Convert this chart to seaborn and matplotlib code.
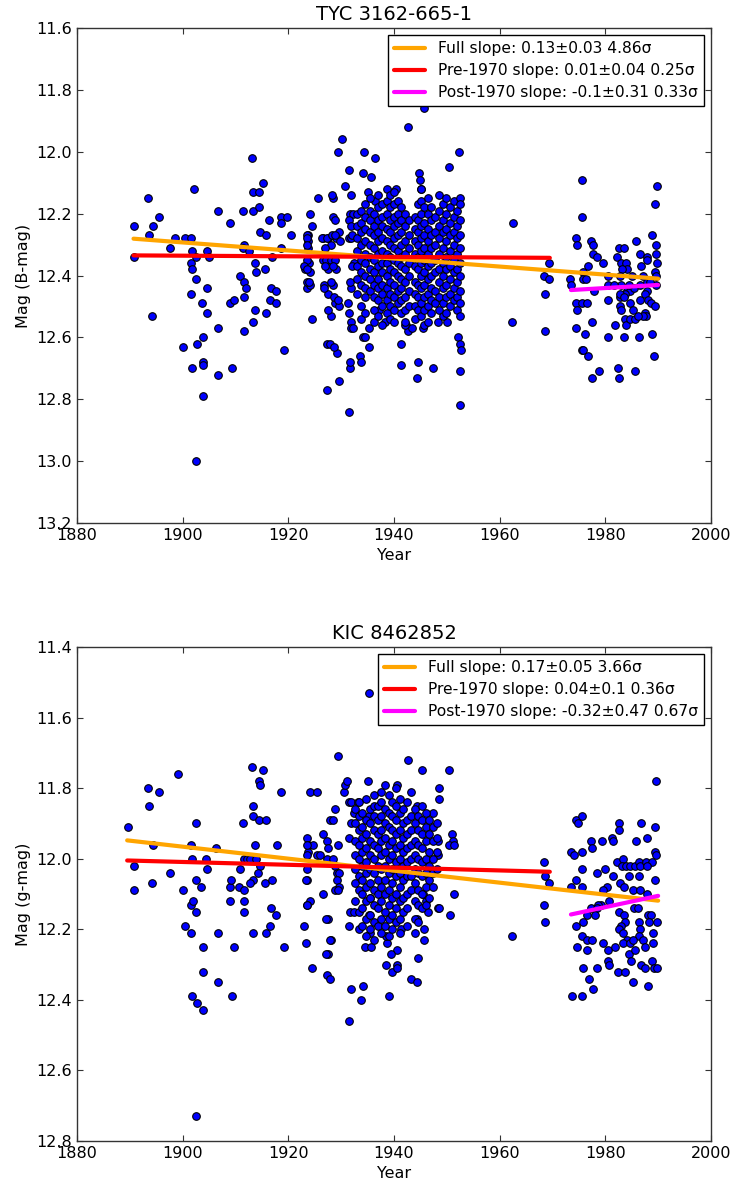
import matplotlib
matplotlib.use("Agg")
import matplotlib.pyplot as plt
from matplotlib.ticker import FormatStrFormatter, MultipleLocator
import pandas as pd
import seaborn as sns

# ---------------- TYC 3162-665-1 (B-mag) ----------------
# individual plates, 1890-1932
tyc_early = [
    (1890.7, 12.24), (1890.8, 12.34), (1893.5, 12.15), (1894.4, 12.24), (1893.7, 12.27),
    (1895.6, 12.21), (1894.2, 12.53), (1897.7, 12.31), (1898.6, 12.28), (1902.2, 12.12),
    (1900.5, 12.28), (1901.6, 12.28), (1901.7, 12.32), (1901.6, 12.36), (1901.8, 12.38),
    (1902.6, 12.41), (1901.6, 12.46), (1903.7, 12.49), (1904.7, 12.44), (1904.7, 12.52),
    (1902.5, 12.34), (1904.7, 12.32), (1905.0, 12.34), (1900.1, 12.63), (1902.8, 12.62),
    (1903.8, 12.60), (1901.8, 12.70), (1903.8, 12.68), (1903.8, 12.69), (1906.6, 12.72),
    (1909.3, 12.70), (1903.8, 12.79), (1902.5, 13.00), (1906.6, 12.19), (1906.6, 12.57),
    (1908.9, 12.23), (1909.0, 12.49), (1909.8, 12.48), (1911.4, 12.19), (1911.7, 12.30),
    (1910.8, 12.40), (1911.6, 12.42), (1911.9, 12.44), (1911.7, 12.47), (1911.7, 12.58),
    (1911.5, 12.31), (1913.1, 12.02), (1913.4, 12.13), (1914.4, 12.13), (1915.3, 12.10),
    (1913.4, 12.19), (1914.4, 12.18), (1914.6, 12.26), (1915.7, 12.27), (1916.4, 12.22),
    (1912.5, 12.32), (1913.7, 12.36), (1913.9, 12.39), (1915.6, 12.38), (1913.4, 12.55),
    (1913.7, 12.51), (1915.8, 12.52), (1916.7, 12.44), (1917.7, 12.45), (1916.5, 12.48),
    (1917.7, 12.49), (1917.0, 12.34), (1918.6, 12.21), (1919.8, 12.21), (1918.6, 12.23),
    (1920.5, 12.27), (1918.6, 12.31), (1919.1, 12.64),
    (1924.1, 12.20), (1925.7, 12.15), (1923.8, 12.27), (1923.7, 12.29), (1923.8, 12.31),
    (1923.1, 12.38), (1923.9, 12.36), (1924.2, 12.39), (1923.6, 12.44), (1924.1, 12.43),
    (1924.4, 12.54), (1926.6, 12.28), (1927.6, 12.28), (1928.5, 12.15), (1928.3, 12.14),
    (1929.5, 12.00), (1930.2, 11.96), (1928.5, 12.21), (1928.8, 12.22), (1929.1, 12.28),
    (1929.6, 12.26), (1929.8, 12.29), (1928.0, 12.30), (1926.9, 12.31), (1926.5, 12.35),
    (1927.6, 12.36), (1929.1, 12.38), (1927.6, 12.38), (1928.5, 12.43), (1927.6, 12.46),
    (1928.8, 12.49), (1929.6, 12.50), (1928.1, 12.53), (1927.3, 12.62), (1927.8, 12.62),
    (1929.3, 12.65), (1927.4, 12.77), (1929.6, 12.74), (1931.7, 12.70), (1931.4, 12.84),
    (1930.7, 12.11), (1931.5, 12.06), (1931.8, 12.14), (1924.5, 12.24), (1926.4, 12.28),
    (1927.3, 12.28), (1928.3, 12.27), (1928.9, 12.27), (1927.2, 12.35), (1928.1, 12.35),
    (1928.8, 12.35), (1927.0, 12.37), (1928.4, 12.37), (1926.7, 12.43), (1926.8, 12.44),
    (1928.0, 12.42), (1928.7, 12.47), (1929.5, 12.48), (1927.6, 12.51), (1931.3, 12.49),
    (1931.8, 12.55), (1928.7, 12.63), (1933.5, 12.66), (1931.7, 12.68), (1923.5, 12.27),
    (1923.6, 12.28), (1923.5, 12.30), (1923.5, 12.35), (1922.9, 12.37), (1923.6, 12.38),
    (1923.5, 12.42), (1924.0, 12.42), (1931.7, 12.20), (1932.2, 12.20), (1931.5, 12.22),
    (1931.8, 12.24), (1931.4, 12.28), (1931.8, 12.28), (1932.0, 12.27), (1932.4, 12.36),
    (1932.1, 12.37), (1931.8, 12.44), (1931.7, 12.42), (1931.4, 12.52), (1931.8, 12.57),
    (1932.2, 12.57),
]

# dense plate series 1933-1953: one column of magnitudes per epoch
tyc_core_years = [
    1933.0, 1933.8, 1934.6, 1935.4, 1936.2, 1937.0, 1937.8, 1938.6, 1939.3, 1940.0,
    1940.7, 1941.4, 1942.1, 1942.8, 1943.9, 1944.5, 1945.1, 1945.7, 1946.4, 1947.1,
    1947.8, 1948.5, 1949.2, 1949.9, 1950.6, 1951.3, 1952.0, 1952.5,
]
tyc_core_mags = [
    [12.20, 12.24, 12.28, 12.32, 12.37, 12.41, 12.46],
    [12.19, 12.23, 12.26, 12.30, 12.35, 12.39, 12.43, 12.50, 12.54],
    [12.17, 12.21, 12.25, 12.29, 12.33, 12.36, 12.40, 12.44, 12.47, 12.52],
    [12.15, 12.19, 12.22, 12.26, 12.30, 12.34, 12.38, 12.41, 12.45],
    [12.20, 12.24, 12.27, 12.31, 12.35, 12.39, 12.43, 12.47, 12.51, 12.55],
    [12.14, 12.18, 12.22, 12.26, 12.29, 12.33, 12.37, 12.41, 12.44, 12.48, 12.53],
    [12.17, 12.21, 12.24, 12.28, 12.32, 12.36, 12.39, 12.43, 12.46, 12.50, 12.56],
    [12.12, 12.16, 12.20, 12.25, 12.29, 12.33, 12.36, 12.40, 12.44, 12.48, 12.52],
    [12.14, 12.18, 12.22, 12.26, 12.30, 12.34, 12.38, 12.42, 12.46, 12.50, 12.54],
    [12.13, 12.17, 12.21, 12.24, 12.28, 12.31, 12.35, 12.39, 12.43, 12.47, 12.51, 12.55],
    [12.16, 12.20, 12.23, 12.27, 12.32, 12.36, 12.40, 12.45, 12.49],
    [12.18, 12.22, 12.26, 12.30, 12.34, 12.37, 12.41, 12.44, 12.48, 12.52],
    [12.20, 12.24, 12.29, 12.33, 12.38, 12.42, 12.47, 12.51, 12.55],
    [12.22, 12.27, 12.31, 12.36, 12.40, 12.45, 12.50],
    [12.21, 12.25, 12.29, 12.33, 12.37, 12.42, 12.46, 12.50, 12.54],
    [12.17, 12.22, 12.26, 12.30, 12.34, 12.38, 12.43, 12.47, 12.51],
    [12.12, 12.16, 12.20, 12.24, 12.28, 12.32, 12.36, 12.40, 12.44, 12.49, 12.53],
    [12.18, 12.23, 12.27, 12.31, 12.35, 12.39, 12.43, 12.47, 12.51],
    [12.15, 12.20, 12.25, 12.29, 12.33, 12.37, 12.41, 12.46, 12.50, 12.55],
    [12.18, 12.22, 12.27, 12.31, 12.36, 12.40, 12.44, 12.48, 12.52],
    [12.21, 12.26, 12.30, 12.35, 12.39, 12.45, 12.49],
    [12.14, 12.19, 12.24, 12.28, 12.33, 12.38, 12.42, 12.47, 12.51],
    [12.17, 12.22, 12.26, 12.31, 12.36, 12.40, 12.44, 12.49, 12.53],
    [12.15, 12.20, 12.25, 12.29, 12.34, 12.38, 12.43, 12.47, 12.52],
    [12.18, 12.23, 12.27, 12.32, 12.37, 12.41, 12.46, 12.50],
    [12.16, 12.21, 12.26, 12.30, 12.35, 12.39, 12.44, 12.48],
    [12.19, 12.24, 12.28, 12.33, 12.38, 12.42, 12.47, 12.51],
    [12.15, 12.17, 12.22, 12.27, 12.31, 12.36, 12.40, 12.45, 12.49, 12.53],
]

# outliers around the dense series, plus plates after 1955
tyc_late = [
    (1934.4, 12.00), (1934.2, 12.07), (1935.6, 12.08), (1936.5, 12.02), (1935.0, 12.13),
    (1936.5, 12.16), (1933.8, 12.68), (1934.1, 12.60), (1934.6, 12.60), (1935.2, 12.63),
    (1935.3, 12.57), (1937.2, 12.51), (1938.3, 12.55), (1941.3, 12.62), (1941.3, 12.69),
    (1944.5, 12.68), (1944.3, 12.73), (1942.3, 12.56), (1942.6, 12.58), (1943.5, 12.57),
    (1945.5, 12.57), (1942.7, 11.92), (1945.7, 11.86), (1952.4, 12.00), (1950.5, 12.05),
    (1944.8, 12.07), (1945.0, 12.09), (1945.2, 12.12), (1947.3, 12.70), (1952.5, 12.71),
    (1952.5, 12.82), (1952.2, 12.60), (1952.5, 12.62), (1952.6, 12.64), (1942.0, 12.56),
    (1945.6, 12.56), (1948.4, 12.55), (1950.0, 12.55), (1939.8, 12.13), (1940.4, 12.12),
    (1962.5, 12.23), (1962.3, 12.55), (1969.3, 12.36), (1968.4, 12.40), (1969.3, 12.41),
    (1968.6, 12.46), (1968.6, 12.58),
    (1975.5, 12.09), (1975.6, 12.21), (1974.5, 12.28), (1974.6, 12.30), (1977.2, 12.29),
    (1977.6, 12.30), (1977.6, 12.33), (1978.4, 12.34), (1979.6, 12.36), (1976.8, 12.37),
    (1975.7, 12.39), (1975.7, 12.41), (1976.3, 12.41), (1973.4, 12.41), (1973.6, 12.43),
    (1977.8, 12.45), (1980.6, 12.40), (1980.6, 12.43), (1980.6, 12.48), (1974.5, 12.49),
    (1975.5, 12.49), (1976.5, 12.49), (1974.6, 12.51), (1977.5, 12.55), (1974.5, 12.57),
    (1976.2, 12.59), (1975.5, 12.64), (1975.8, 12.64), (1976.8, 12.66), (1977.4, 12.73),
    (1978.8, 12.71), (1980.6, 12.60), (1981.8, 12.56), (1982.4, 12.70), (1982.5, 12.73),
    (1983.5, 12.60), (1985.7, 12.71), (1986.4, 12.60), (1988.8, 12.59), (1989.2, 12.66),
    (1982.2, 12.34), (1982.6, 12.31), (1983.6, 12.31), (1982.9, 12.36), (1983.9, 12.36),
    (1984.2, 12.38), (1983.1, 12.38), (1982.7, 12.40), (1982.9, 12.43), (1982.8, 12.47),
    (1982.8, 12.50), (1982.9, 12.51), (1984.2, 12.45), (1984.7, 12.45), (1984.7, 12.49),
    (1985.5, 12.44), (1986.6, 12.43), (1986.6, 12.48), (1985.9, 12.29), (1986.5, 12.33),
    (1986.7, 12.37), (1987.8, 12.34), (1987.9, 12.35), (1987.8, 12.42), (1987.9, 12.45),
    (1987.5, 12.46), (1988.1, 12.48), (1988.6, 12.49), (1987.5, 12.52), (1987.7, 12.53),
    (1987.1, 12.53), (1988.8, 12.27), (1989.6, 12.30), (1989.6, 12.33), (1989.7, 12.36),
    (1989.5, 12.39), (1989.6, 12.40), (1989.6, 12.43), (1989.5, 12.50), (1989.5, 12.17),
    (1989.7, 12.11), (1983.7, 12.54), (1983.9, 12.56), (1984.7, 12.54), (1985.6, 12.54),
    (1986.2, 12.53), (1985.3, 12.51), (1981.6, 12.43), (1983.8, 12.46), (1984.4, 12.43),
    (1985.0, 12.40), (1987.2, 12.40), (1988.5, 12.42), (1982.7, 12.46), (1983.5, 12.47),
]

# least-squares fits: slope in mag per century
tyc_fit_names = ["Full", "Pre-1970", "Post-1970"]
tyc_slope = [0.13, 0.01, -0.1]
tyc_slope_err = [0.03, 0.04, 0.31]
tyc_sigma = [4.86, 0.25, 0.33]
tyc_fit_start = [1890.7, 1890.7, 1973.5]
tyc_fit_end = [1990.0, 1969.5, 1990.0]
tyc_fit_mag0 = [12.281, 12.335, 12.447]

# ---------------- KIC 8462852 (g-mag) ----------------
kic_early = [
    (1889.7, 11.91), (1890.8, 12.02), (1890.8, 12.09), (1893.5, 11.80), (1893.6, 11.85),
    (1895.6, 11.81), (1894.2, 12.07), (1894.3, 11.96), (1897.6, 12.04), (1899.2, 11.76),
    (1900.1, 12.09), (1900.5, 12.19), (1901.6, 12.21), (1901.6, 12.13), (1901.9, 12.12),
    (1901.7, 12.00), (1901.6, 11.96), (1902.6, 11.90), (1902.6, 12.06), (1903.4, 12.08),
    (1902.6, 12.15), (1904.5, 12.00), (1904.7, 12.03), (1906.4, 11.97), (1906.6, 12.21),
    (1903.8, 12.25), (1903.8, 12.32), (1906.6, 12.35), (1909.8, 12.25), (1909.3, 12.39),
    (1901.8, 12.39), (1902.8, 12.41), (1903.8, 12.43), (1902.6, 12.73), (1908.9, 12.08),
    (1909.1, 12.06), (1908.9, 12.12), (1910.9, 12.03), (1911.6, 12.00), (1912.1, 12.00),
    (1910.7, 12.08), (1911.6, 12.09), (1911.7, 12.12), (1911.7, 12.15), (1911.4, 11.90),
    (1913.1, 11.74), (1914.4, 11.78), (1914.6, 11.79), (1915.3, 11.75), (1913.4, 11.85),
    (1913.3, 11.88), (1914.4, 11.89), (1915.8, 11.89), (1913.7, 11.96), (1912.8, 12.00),
    (1913.8, 12.00), (1914.6, 12.02), (1914.3, 12.04), (1913.4, 12.06), (1912.8, 12.07),
    (1915.6, 12.07), (1917.0, 12.06), (1913.4, 12.21), (1915.7, 12.21), (1916.5, 12.19),
    (1916.7, 12.14), (1917.7, 12.16), (1917.9, 11.96), (1918.6, 11.81), (1919.1, 12.25),
    (1923.0, 12.19), (1923.3, 12.24), (1923.6, 11.94), (1923.8, 11.96), (1923.8, 11.98),
    (1923.6, 11.99), (1923.6, 12.03), (1923.6, 12.06), (1924.1, 12.12), (1923.6, 12.13),
    (1924.1, 11.81), (1925.4, 11.81), (1924.4, 12.31), (1924.6, 11.96), (1925.4, 11.99),
    (1926.0, 11.99), (1926.6, 11.93), (1927.4, 11.95), (1927.6, 11.97), (1927.4, 12.00),
    (1926.6, 12.10), (1927.6, 12.17), (1928.1, 12.23), (1927.6, 12.27), (1927.3, 12.33),
    (1927.8, 12.34), (1927.8, 11.89), (1928.5, 11.89), (1928.8, 11.86), (1929.4, 11.96),
    (1929.5, 11.71), (1928.5, 12.00), (1928.8, 12.02), (1929.2, 12.04), (1929.6, 12.04),
    (1929.2, 12.06), (1929.6, 12.08), (1928.8, 12.09), (1929.5, 12.09), (1930.6, 11.81),
    (1930.7, 11.79), (1931.2, 11.78), (1931.4, 11.84), (1931.9, 11.84), (1933.1, 11.84),
    (1931.8, 11.90), (1932.4, 11.87), (1931.5, 11.94), (1931.7, 12.15), (1932.4, 12.15),
    (1931.4, 12.19), (1931.8, 12.37), (1934.1, 12.36), (1933.8, 12.40), (1931.4, 12.46),
    (1935.0, 11.78), (1935.2, 11.53), (1935.3, 11.88), (1923.5, 11.96), (1923.3, 12.06),
    (1923.5, 12.13), (1927.2, 12.17), (1927.8, 12.23), (1927.2, 12.27),
]

kic_core_years = [
    1932.6, 1933.3, 1934.0, 1934.7, 1935.5, 1936.2, 1936.9, 1937.6, 1938.3, 1939.0,
    1939.7, 1940.4, 1941.1, 1941.8, 1942.5, 1943.2, 1943.9, 1944.6, 1945.3, 1946.0,
    1946.7, 1947.4, 1948.2,
]
kic_core_mags = [
    [11.86, 11.90, 11.95, 11.99, 12.03, 12.07, 12.12],
    [11.84, 11.88, 11.92, 11.96, 12.00, 12.05, 12.09, 12.15, 12.20],
    [11.87, 11.91, 11.94, 11.98, 12.02, 12.06, 12.10, 12.14, 12.19],
    [11.83, 11.89, 11.93, 11.97, 12.01, 12.04, 12.08, 12.12, 12.17, 12.22],
    [11.86, 11.90, 11.95, 11.99, 12.03, 12.07, 12.11, 12.16, 12.20],
    [11.82, 11.85, 11.88, 11.92, 11.96, 12.00, 12.04, 12.09, 12.13, 12.18, 12.23],
    [11.85, 11.89, 11.93, 11.97, 12.02, 12.06, 12.10, 12.14, 12.19],
    [11.81, 11.84, 11.88, 11.92, 11.95, 11.99, 12.03, 12.08, 12.12, 12.17, 12.21],
    [11.79, 11.86, 11.90, 11.94, 11.98, 12.02, 12.06, 12.10, 12.15, 12.19],
    [11.82, 11.87, 11.91, 11.96, 12.00, 12.04, 12.09, 12.13, 12.17, 12.22],
    [11.84, 11.88, 11.92, 11.95, 11.99, 12.03, 12.07, 12.11, 12.16, 12.20],
    [11.80, 11.85, 11.89, 11.93, 11.97, 12.01, 12.05, 12.10, 12.14, 12.18],
    [11.83, 11.87, 11.92, 11.96, 12.00, 12.04, 12.08, 12.12, 12.17, 12.21],
    [11.86, 11.90, 11.94, 11.98, 12.02, 12.06, 12.11, 12.15],
    [11.84, 11.89, 11.93, 11.97, 12.01, 12.05, 12.10, 12.14, 12.19],
    [11.88, 11.92, 11.96, 12.00, 12.05, 12.09],
    [11.86, 11.90, 11.95, 11.99, 12.03, 12.07, 12.12, 12.17, 12.21],
    [11.88, 11.92, 11.96, 12.00, 12.04, 12.09, 12.13, 12.18],
    [11.85, 11.89, 11.93, 11.97, 12.01, 12.05, 12.10, 12.14],
    [11.87, 11.91, 11.95, 12.00, 12.04, 12.08, 12.13],
    [11.89, 11.93, 11.98, 12.02, 12.06, 12.11],
    [11.91, 11.95, 12.00, 12.04, 12.08],
    [11.90, 11.94, 11.98, 12.03],
]

kic_late = [
    (1935.5, 12.11), (1935.3, 12.16), (1935.5, 12.21), (1934.6, 12.25), (1935.6, 12.25),
    (1939.1, 12.39), (1938.5, 12.30), (1940.5, 12.30), (1939.6, 12.32), (1940.5, 12.26),
    (1938.7, 12.24), (1938.5, 12.22), (1941.3, 12.20), (1944.6, 12.28), (1943.3, 12.34),
    (1944.3, 12.35), (1945.6, 12.23), (1942.6, 11.72), (1945.3, 11.75), (1950.5, 11.75),
    (1943.2, 11.81), (1944.4, 11.85), (1940.5, 11.79), (1948.6, 11.80), (1948.6, 11.83),
    (1947.4, 11.87), (1951.0, 11.93), (1951.2, 11.95), (1950.4, 11.96), (1951.4, 11.96),
    (1948.4, 11.95), (1948.4, 11.99), (1951.4, 12.10), (1950.6, 12.16), (1948.4, 12.14),
    (1948.6, 12.14), (1939.5, 12.27), (1940.5, 12.31), (1945.5, 12.10), (1946.0, 12.12),
    (1946.5, 12.15), (1944.4, 12.17), (1945.7, 12.20),
    (1962.3, 12.22), (1968.4, 12.01), (1968.6, 12.05), (1969.3, 12.07), (1968.4, 12.13),
    (1968.6, 12.18),
    (1974.5, 11.89), (1974.8, 11.90), (1975.6, 11.88), (1973.6, 11.98), (1974.1, 11.99),
    (1975.5, 11.98), (1975.6, 12.03), (1974.5, 12.06), (1973.6, 12.08), (1975.6, 12.08),
    (1977.3, 11.95), (1977.5, 11.97), (1979.4, 11.95), (1981.3, 11.94), (1981.5, 11.95),
    (1982.6, 11.90), (1982.5, 11.92), (1986.8, 11.90), (1985.9, 11.95), (1987.8, 11.94),
    (1989.6, 11.78), (1989.5, 11.91), (1989.5, 11.98), (1989.6, 11.99), (1989.5, 12.06),
    (1979.9, 12.03), (1978.5, 12.04), (1980.3, 12.08), (1979.5, 12.09),
    (1982.2, 12.01), (1983.3, 12.00), (1983.1, 12.02), (1984.0, 12.02), (1984.7, 12.02),
    (1985.6, 12.02), (1986.3, 12.01), (1986.6, 12.02), (1987.7, 12.01), (1988.8, 12.01),
    (1987.8, 12.02), (1981.5, 12.05), (1982.8, 12.07), (1983.5, 12.08), (1984.5, 12.05),
    (1985.3, 12.09), (1986.4, 12.05), (1986.5, 12.09), (1987.9, 12.10), (1985.4, 12.14),
    (1980.7, 12.12), (1979.2, 12.13), (1978.7, 12.13), (1977.2, 12.14), (1978.4, 12.14),
    (1982.6, 12.15), (1983.6, 12.16), (1983.8, 12.18), (1983.0, 12.19), (1982.5, 12.20),
    (1983.4, 12.21), (1984.1, 12.23), (1986.2, 12.14), (1988.1, 12.16), (1988.6, 12.16),
    (1986.4, 12.18), (1988.3, 12.18), (1989.7, 12.18), (1986.6, 12.20), (1986.3, 12.22),
    (1987.2, 12.23), (1989.1, 12.21), (1987.5, 12.25), (1989.1, 12.24), (1976.5, 12.16),
    (1978.0, 12.16), (1975.7, 12.18), (1974.5, 12.19), (1975.6, 12.22), (1976.5, 12.23),
    (1977.5, 12.23), (1979.6, 12.24), (1974.7, 12.25), (1976.5, 12.26), (1980.6, 12.26),
    (1981.8, 12.25), (1983.3, 12.24), (1984.7, 12.24), (1985.3, 12.23), (1984.5, 12.27),
    (1985.6, 12.26), (1980.6, 12.29), (1980.7, 12.30), (1984.8, 12.29), (1986.8, 12.30),
    (1987.6, 12.31), (1988.9, 12.29), (1989.3, 12.31), (1989.7, 12.31), (1975.8, 12.31),
    (1978.5, 12.31), (1976.9, 12.34), (1977.6, 12.37), (1982.4, 12.32), (1983.7, 12.32),
    (1985.3, 12.35), (1988.1, 12.36), (1973.7, 12.39), (1975.5, 12.39),
]

kic_fit_names = ["Full", "Pre-1970", "Post-1970"]
kic_slope = [0.17, 0.04, -0.32]
kic_slope_err = [0.05, 0.1, 0.47]
kic_sigma = [3.66, 0.36, 0.67]
kic_fit_start = [1889.5, 1889.5, 1973.5]
kic_fit_end = [1990.0, 1969.5, 1990.0]
kic_fit_mag0 = [11.948, 12.005, 12.158]

fit_colors = ["#FFA500", "#FF0000", "#FF00FF"]


def to_frame(early, core_years, core_mags, late):
    years, mags = [], []
    for y, m in early + late:
        years.append(y)
        mags.append(m)
    for y, col in zip(core_years, core_mags):
        years.extend([y] * len(col))
        mags.extend(col)
    return pd.DataFrame({"year": years, "mag": mags})


sns.set_theme(style="ticks")
plt.rcParams.update({
    "font.family": ["DejaVu Sans"],
    "text.color": "black",
    "axes.labelcolor": "black",
    "axes.edgecolor": "#333333",
    "axes.linewidth": 1.0,
    "xtick.color": "#333333",
    "ytick.color": "#333333",
    "xtick.labelcolor": "black",
    "ytick.labelcolor": "black",
    "xtick.direction": "in",
    "ytick.direction": "in",
    "xtick.top": True,
    "ytick.right": True,
    "xtick.major.size": 4.5,
    "ytick.major.size": 4.5,
    "xtick.major.width": 0.8,
    "ytick.major.width": 0.8,
})

fig = plt.figure(figsize=(7.31, 11.86), dpi=100)
ax_top = fig.add_axes([0.1053, 0.5590, 0.8673, 0.4174])
ax_bot = fig.add_axes([0.1053, 0.0379, 0.8673, 0.4166])

panels = [
    (ax_top, to_frame(tyc_early, tyc_core_years, tyc_core_mags, tyc_late),
     "TYC 3162-665-1", "Mag (B-mag)", (13.2, 11.6),
     tyc_fit_names, tyc_slope, tyc_slope_err, tyc_sigma,
     tyc_fit_start, tyc_fit_end, tyc_fit_mag0),
    (ax_bot, to_frame(kic_early, kic_core_years, kic_core_mags, kic_late),
     "KIC 8462852", "Mag (g-mag)", (12.8, 11.4),
     kic_fit_names, kic_slope, kic_slope_err, kic_sigma,
     kic_fit_start, kic_fit_end, kic_fit_mag0),
]

for (ax, df, title, ylabel, ylim, names, slopes, errs, sigmas,
     starts, ends, mag0s) in panels:
    sns.scatterplot(data=df, x="year", y="mag", ax=ax, s=30, color="#0000FF",
                    edgecolor="black", linewidth=0.8, legend=False, zorder=1)
    for name, s, e, sig, x0, x1, m0, c in zip(names, slopes, errs, sigmas,
                                               starts, ends, mag0s, fit_colors):
        m1 = m0 + s / 100.0 * (x1 - x0)
        sns.lineplot(x=[x0, x1], y=[m0, m1], ax=ax, color=c, linewidth=3,
                     label=f"{name} slope: {s}\u00b1{e} {sig}\u03c3", zorder=3)
    ax.set_xlim(1880, 2000)
    ax.set_ylim(*ylim)
    ax.xaxis.set_major_locator(MultipleLocator(20))
    ax.yaxis.set_major_locator(MultipleLocator(0.2))
    ax.yaxis.set_major_formatter(FormatStrFormatter("%.1f"))
    ax.tick_params(labelsize=11.5)
    ax.set_title(title, fontsize=14)
    ax.set_xlabel("Year", fontsize=11.5)
    ax.set_ylabel(ylabel, fontsize=11.5)
    for sp in ax.spines.values():
        sp.set_visible(True)
    leg = ax.legend(loc="upper right", fontsize=11.2, frameon=True, fancybox=False,
                    framealpha=1, edgecolor="black", borderaxespad=0.45,
                    handlelength=2.0, labelspacing=0.45)
    leg.get_frame().set_linewidth(1.0)

fig.savefig("out.png", dpi=100)
